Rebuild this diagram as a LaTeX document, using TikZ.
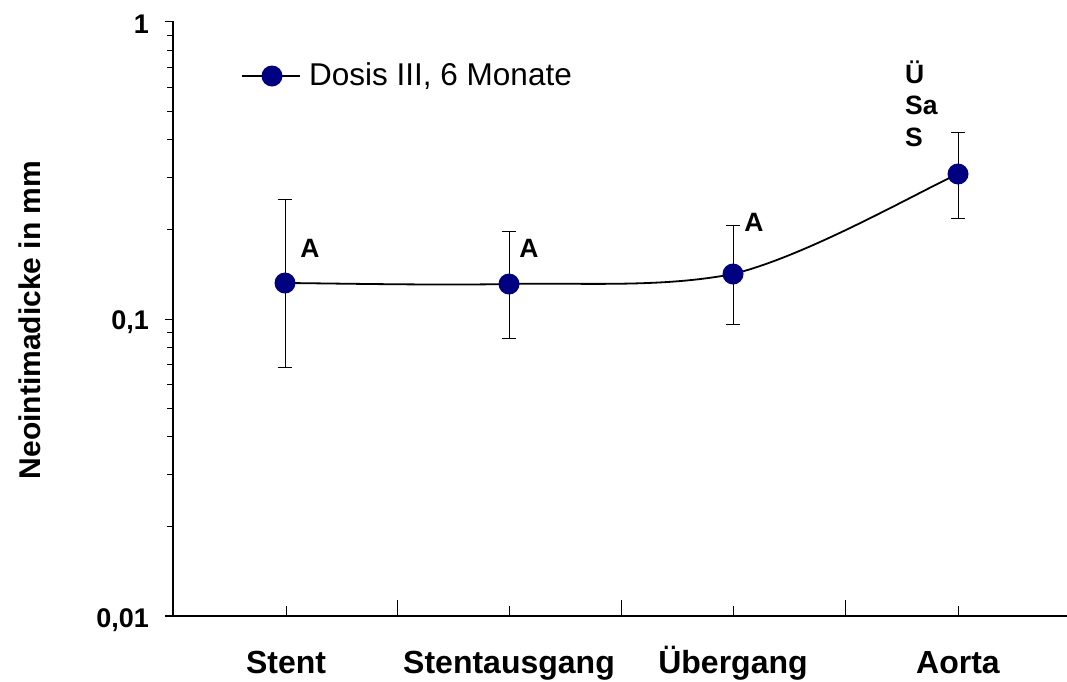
\documentclass[tikz,border=0pt]{standalone}
\usepackage{fontspec}
\setmainfont{Liberation Sans}
\begin{document}
\begin{tikzpicture}[x=1pt,y=-1pt,
  axisline/.style={line width=1.1pt,black},
  tickline/.style={line width=1pt,black},
  errbar/.style={line width=0.9pt,black},
  series/.style={line width=1.8pt,black},
  marker/.style={circle,fill={rgb,255:red,0;green,0;blue,128},minimum size=21pt,inner sep=0pt},
  catlabel/.style={font=\fontsize{32}{36}\selectfont\bfseries,anchor=base,inner sep=0pt},
  ticklabel/.style={font=\fontsize{27}{30}\selectfont\bfseries,anchor=base east,inner sep=0pt},
  sig/.style={font=\fontsize{26.5}{30}\selectfont\bfseries,inner sep=0pt}
]
\useasboundingbox (0,0) rectangle (1067,681);
% axes
\draw[axisline] (173,21) -- (173,616);
\draw[axisline] (165,616) -- (1067,616);
% y ticks
\foreach \yy in {21,319,616} {\draw[tickline] (165,\yy) -- (173,\yy);}
\foreach \v in {2,...,9} {
  \draw[tickline] (167,{319-297.5*log10(\v)}) -- (173,{319-297.5*log10(\v)});
  \draw[tickline] (167,{616-297.5*log10(\v)}) -- (173,{616-297.5*log10(\v)});
}
% x ticks
\foreach \xx in {397,621,845} {\draw[tickline] (\xx,616) -- (\xx,600);}
\foreach \xx in {286,509,733,958} {\draw[tickline] (\xx,616) -- (\xx,606);}
% tick labels
\node[ticklabel] (t1) at (149,33) {1};
\node[ticklabel] (t01) at (149,329) {0,1};
\node[ticklabel] (t001) at (149,627) {0,01};
% category labels
\node[catlabel] (c1) at (286,673) {Stent};
\node[catlabel] (c2) at (509,673) {Stentausgang};
\node[catlabel] (c3) at (733,673) {Übergang};
\node[catlabel] (c4) at (958,673) {Aorta};
% y label
\node[font=\fontsize{30}{34}\selectfont\bfseries,rotate=90,inner sep=0pt] (ylab) at (30,320) {Neointimadicke in mm};
% data coordinates
\coordinate (p1) at (285,283);
\coordinate (p2) at (509,284);
\coordinate (p3) at (733,274);
\coordinate (p4) at (958,174);
% error bars
\coordinate (e1t) at (285,199); \coordinate (e1b) at (285,367);
\coordinate (e2t) at (509,231); \coordinate (e2b) at (509,338);
\coordinate (e3t) at (733,225); \coordinate (e3b) at (733,324);
\coordinate (e4t) at (958,132); \coordinate (e4b) at (958,218);
\foreach \i in {1,2,3,4} {
  \draw[errbar] (e\i t) -- (e\i b);
  \draw[errbar] ([xshift=-7pt]e\i t) -- ([xshift=7pt]e\i t);
  \draw[errbar] ([xshift=-7pt]e\i b) -- ([xshift=7pt]e\i b);
}
% smoothed series line
\draw[series] (p1) .. controls (322.3,283.2) and (434.3,285.5) .. (p2)
  .. controls (583.7,282.5) and (660,288) .. (p3)
  .. controls (807.8,255.7) and (920.5,190.7) .. (p4);
% markers
\node[marker] (m1) at (p1) {};
\node[marker] (m2) at (p2) {};
\node[marker] (m3) at (p3) {};
\node[marker] (m4) at (p4) {};
% significance labels
\node[sig] (a1) at (310,248) {A};
\node[sig] (a2) at (529,248) {A};
\node[sig] (a3) at (754,222) {A};
\node[sig,anchor=west] (a4) at (905,72) {Ü};
\node[sig,anchor=west] (a5) at (905,105) {Sa};
\node[sig,anchor=west] (a6) at (905,137) {S};
% legend
\coordinate (l1) at (242,76);
\coordinate (l2) at (300,76);
\draw[series] (l1) -- (l2);
\node[marker] (lm) at (272,76) {};
\node[font=\fontsize{31.5}{36}\selectfont,anchor=west,inner sep=0pt] (ltext) at (309,76) {Dosis III, 6 Monate};
\end{tikzpicture}
\end{document}
